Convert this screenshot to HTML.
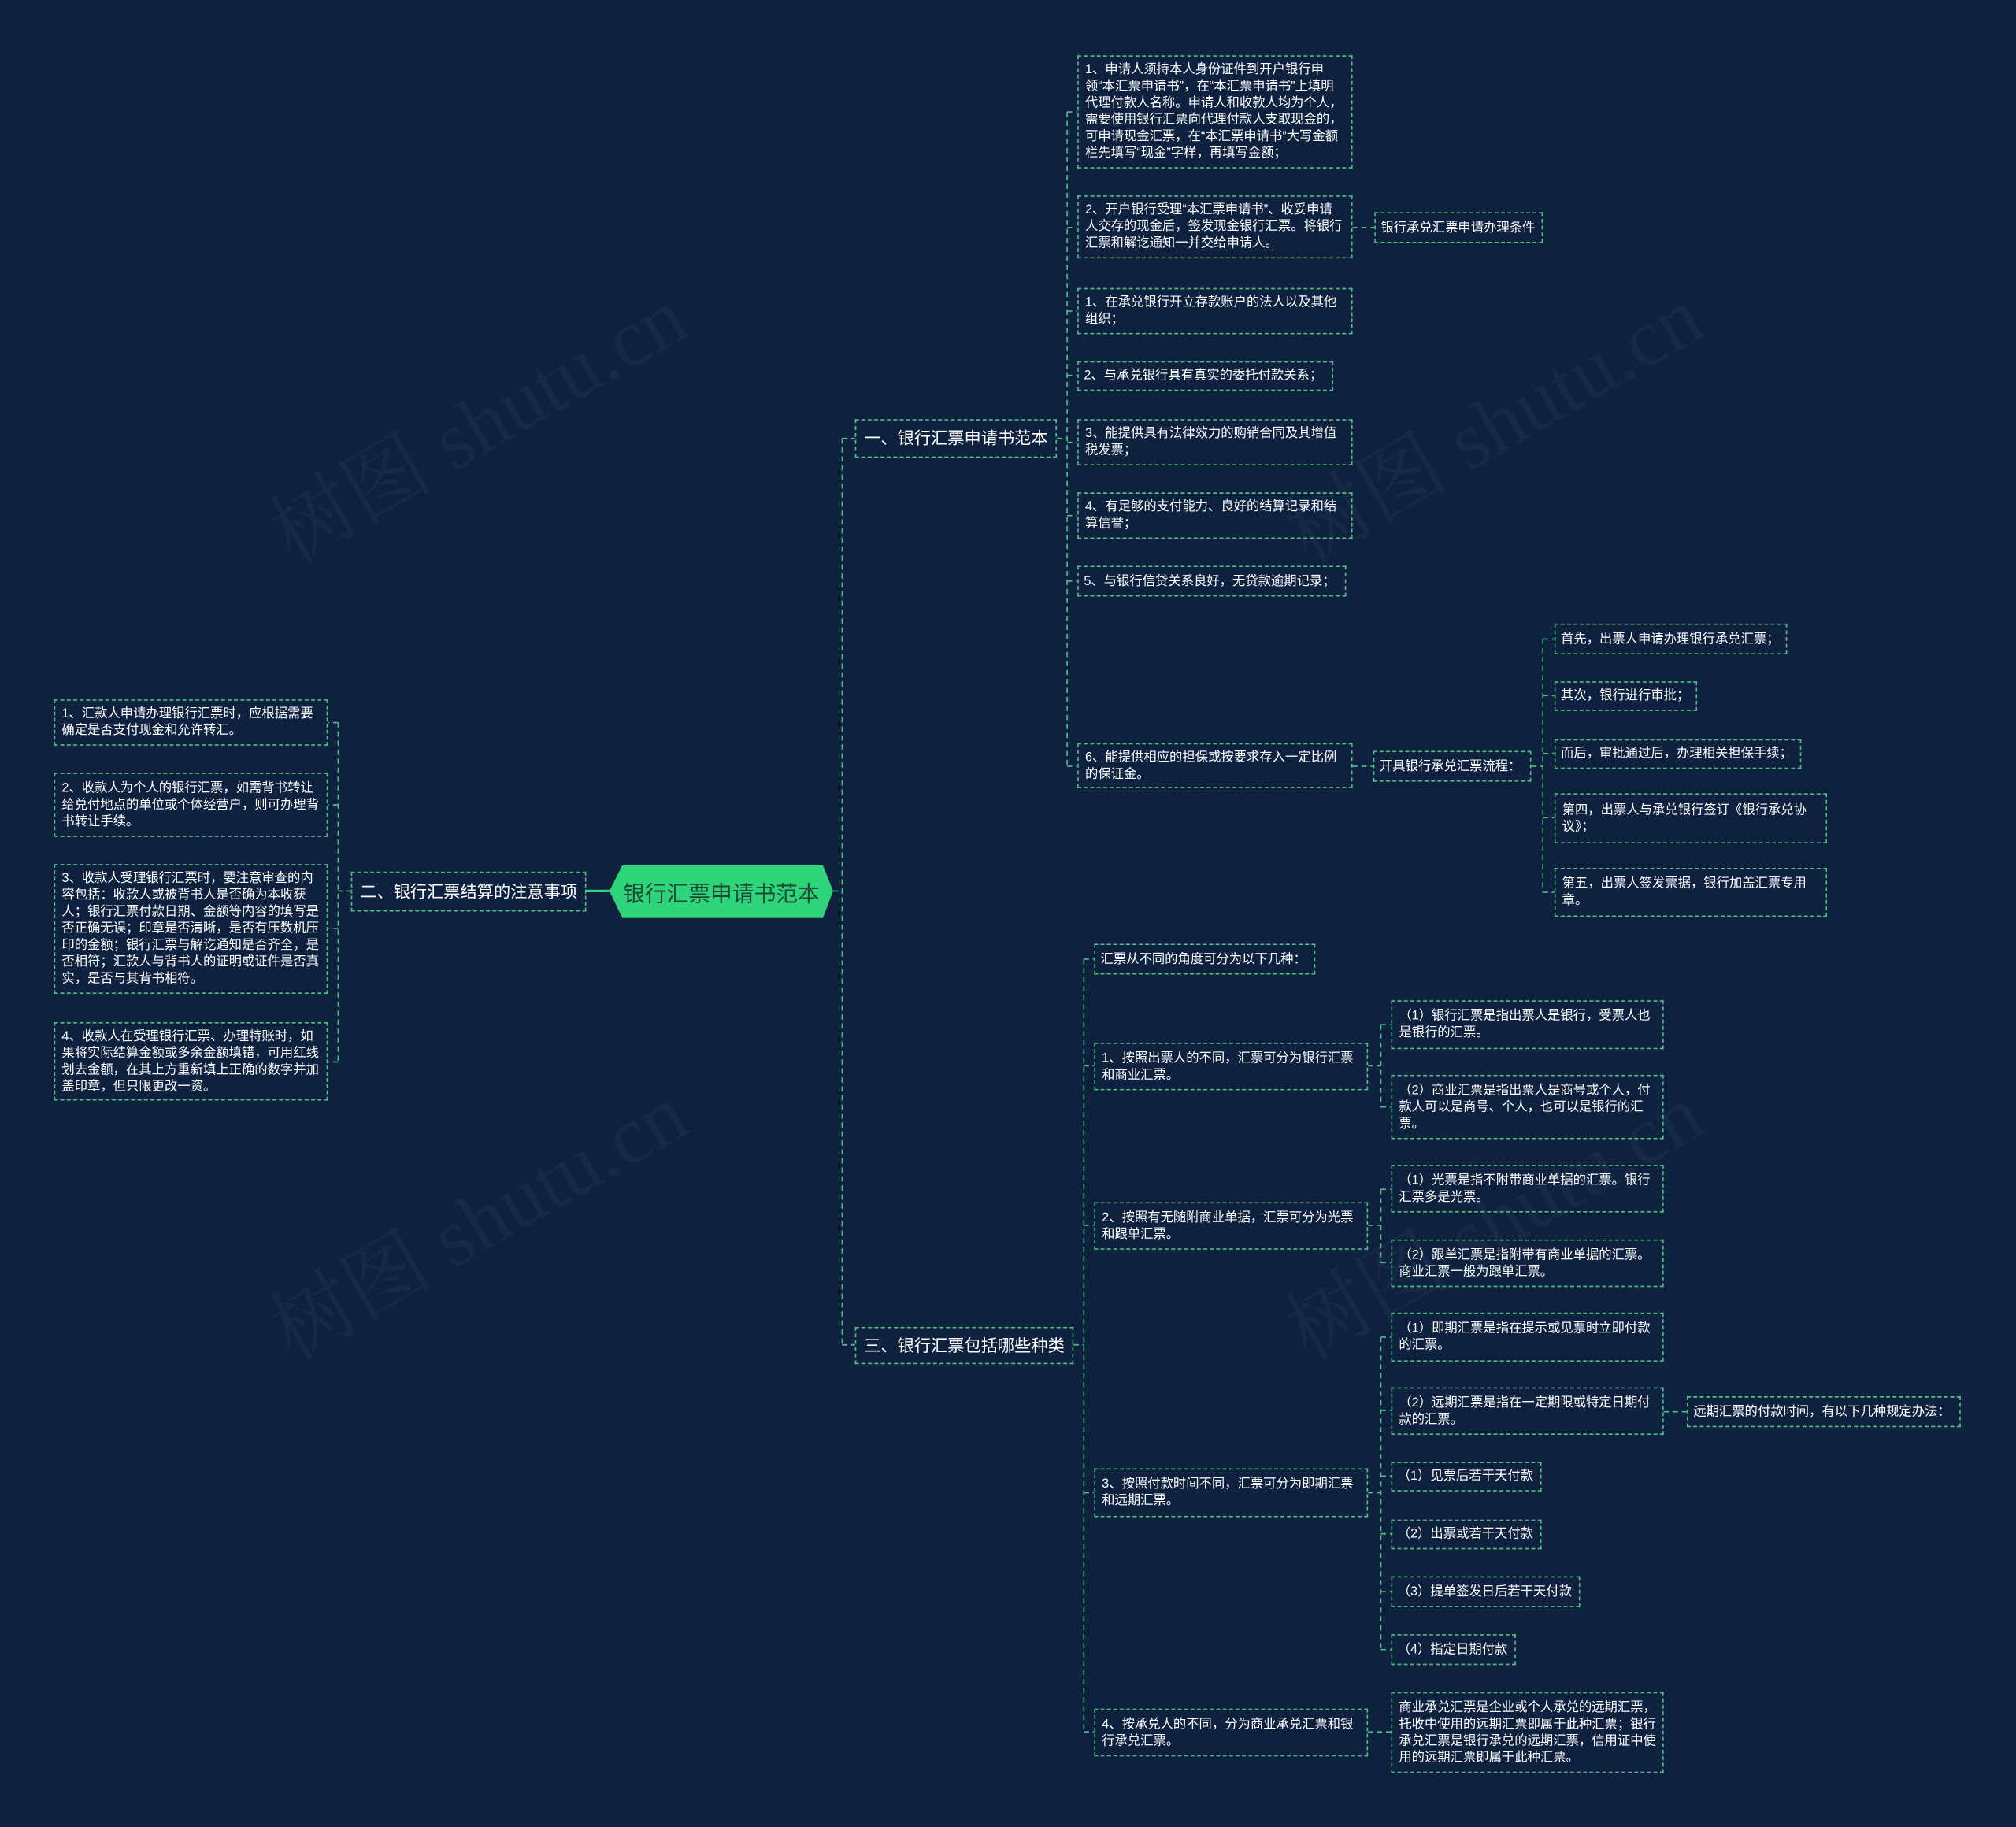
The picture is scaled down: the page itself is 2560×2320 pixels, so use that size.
<!DOCTYPE html>
<html><head><meta charset="utf-8"><style>
html,body{margin:0;padding:0;background:#0e2240;}
#wrap{width:2560px;height:2320px;overflow:hidden;position:relative;background:#0e2240;}
#s{position:absolute;left:0;top:0;width:1568px;height:1421px;transform:scale(1.63265);transform-origin:0 0;font-family:"Liberation Sans","Noto Sans CJK SC",sans-serif;}
.b{position:absolute;box-sizing:border-box;border:1px dashed #4fbf82;color:#fff;font-size:10px;line-height:13px;padding:0 5px;display:flex;align-items:center;}
.n{white-space:nowrap;padding:0 4px;overflow:visible;}
.m{font-size:13px;line-height:16px;padding:0 6px;white-space:nowrap;}
.wm{position:absolute;color:rgba(255,255,255,0.035);font-size:64px;font-family:"Liberation Serif","Noto Serif CJK SC",serif;transform:rotate(-30deg);white-space:nowrap;}
svg{position:absolute;left:0;top:0;}
</style></head><body><div id="wrap"><div id="s">
<div class="wm" style="left:190px;top:280px">树图 shutu.cn</div>
<div class="wm" style="left:980px;top:280px">树图 shutu.cn</div>
<div class="wm" style="left:190px;top:900px">树图 shutu.cn</div>
<div class="wm" style="left:980px;top:900px">树图 shutu.cn</div>
<svg width="1568" height="1421" fill="none" stroke="#4fbf82" stroke-width="1" stroke-dasharray="4 3">
<path d="M648 693H655M655 341V1046M655 341H665M655 1046H665"/>
<path d="M456 693H474" stroke="#2ed47a" stroke-width="2" stroke-dasharray="none"/>
<path d="M273 693H263M263 562V826M263 562H255M263 626H255M263 722H255M263 826H255"/>
<path d="M822 341H830M830 87V596M830 87H838M830 177H838M830 242H838M830 292H838M830 344H838M830 401H838M830 452H838M830 596H838"/>
<path d="M1052 177H1069M1052 596H1068M1191 596H1200M1200 497V694M1200 497H1209M1200 541H1209M1200 586H1209M1200 636H1209M1200 694H1209"/>
<path d="M835 1046H843M843 746V1347M843 746H851M843 829H851M843 953H851M843 1161H851M843 1347H851"/>
<path d="M1064 829H1074M1074 797V861M1074 797H1082M1074 861H1082"/>
<path d="M1064 953H1074M1074 925V982M1074 925H1082M1074 982H1082"/>
<path d="M1064 1161H1074M1074 1040V1283M1074 1040H1082M1074 1097H1082M1074 1148H1082M1074 1193H1082M1074 1238H1082M1074 1283H1082"/>
<path d="M1294 1098H1312M1064 1347H1082"/>
</svg>
<svg width="1568" height="1421"><polygon points="484,673 640,673 648,693 640,714 484,714 474,693" fill="#2ed47a"/></svg>
<div style="position:absolute;left:474px;top:673px;width:174px;height:41px;display:flex;align-items:center;justify-content:center;color:#1b4a33;font-size:17px;">银行汇票申请书范本</div>

<div class="b m" style="left:665px;top:326px;width:157px;height:30px">一、银行汇票申请书范本</div>
<div class="b m" style="left:273px;top:678px;width:183px;height:31px">二、银行汇票结算的注意事项</div>
<div class="b m" style="left:665px;top:1032px;width:170px;height:29px">三、银行汇票包括哪些种类</div>

<div class="b" style="left:838px;top:43px;width:214px;height:88px">1、申请人须持本人身份证件到开户银行申领“本汇票申请书”，在“本汇票申请书”上填明代理付款人名称。申请人和收款人均为个人，需要使用银行汇票向代理付款人支取现金的，可申请现金汇票，在“本汇票申请书”大写金额栏先填写“现金”字样，再填写金额；</div>
<div class="b" style="left:838px;top:152px;width:214px;height:49px">2、开户银行受理“本汇票申请书”、收妥申请人交存的现金后，签发现金银行汇票。将银行汇票和解讫通知一并交给申请人。</div>
<div class="b n" style="left:1069px;top:165px;width:131px;height:24px">银行承兑汇票申请办理条件</div>
<div class="b" style="left:838px;top:224px;width:214px;height:36px">1、在承兑银行开立存款账户的法人以及其他组织；</div>
<div class="b n" style="left:838px;top:281px;width:199px;height:23px">2、与承兑银行具有真实的委托付款关系；</div>
<div class="b" style="left:838px;top:326px;width:214px;height:36px">3、能提供具有法律效力的购销合同及其增值税发票；</div>
<div class="b" style="left:838px;top:383px;width:214px;height:36px">4、有足够的支付能力、良好的结算记录和结算信誉；</div>
<div class="b n" style="left:838px;top:440px;width:209px;height:24px">5、与银行信贷关系良好，无贷款逾期记录；</div>
<div class="b" style="left:838px;top:578px;width:214px;height:35px">6、能提供相应的担保或按要求存入一定比例的保证金。</div>
<div class="b n" style="left:1068px;top:584px;width:123px;height:24px">开具银行承兑汇票流程：</div>
<div class="b n" style="left:1209px;top:485px;width:181px;height:24px">首先，出票人申请办理银行承兑汇票；</div>
<div class="b n" style="left:1209px;top:530px;width:111px;height:23px">其次，银行进行审批；</div>
<div class="b n" style="left:1209px;top:575px;width:192px;height:23px">而后，审批通过后，办理相关担保手续；</div>
<div class="b" style="left:1209px;top:617px;width:212px;height:39px">第四，出票人与承兑银行签订《银行承兑协议》；</div>
<div class="b" style="left:1209px;top:675px;width:212px;height:38px">第五，出票人签发票据，银行加盖汇票专用章。</div>

<div class="b" style="left:42px;top:544px;width:213px;height:36px">1、汇款人申请办理银行汇票时，应根据需要确定是否支付现金和允许转汇。</div>
<div class="b" style="left:42px;top:601px;width:213px;height:50px">2、收款人为个人的银行汇票，如需背书转让给兑付地点的单位或个体经营户，则可办理背书转让手续。</div>
<div class="b" style="left:42px;top:672px;width:213px;height:101px">3、收款人受理银行汇票时，要注意审查的内容包括：收款人或被背书人是否确为本收获人；银行汇票付款日期、金额等内容的填写是否正确无误；印章是否清晰，是否有压数机压印的金额；银行汇票与解讫通知是否齐全，是否相符；汇款人与背书人的证明或证件是否真实，是否与其背书相符。</div>
<div class="b" style="left:42px;top:795px;width:213px;height:61px">4、收款人在受理银行汇票、办理特账时，如果将实际结算金额或多余金额填错，可用红线划去金额，在其上方重新填上正确的数字并加盖印章，但只限更改一资。</div>

<div class="b n" style="left:851px;top:734px;width:172px;height:24px">汇票从不同的角度可分为以下几种：</div>
<div class="b" style="left:851px;top:811px;width:213px;height:37px">1、按照出票人的不同，汇票可分为银行汇票和商业汇票。</div>
<div class="b" style="left:1082px;top:778px;width:212px;height:38px">（1）银行汇票是指出票人是银行，受票人也是银行的汇票。</div>
<div class="b" style="left:1082px;top:836px;width:212px;height:50px">（2）商业汇票是指出票人是商号或个人，付款人可以是商号、个人，也可以是银行的汇票。</div>
<div class="b" style="left:851px;top:935px;width:213px;height:37px">2、按照有无随附商业单据，汇票可分为光票和跟单汇票。</div>
<div class="b" style="left:1082px;top:906px;width:212px;height:37px">（1）光票是指不附带商业单据的汇票。银行汇票多是光票。</div>
<div class="b" style="left:1082px;top:964px;width:212px;height:37px">（2）跟单汇票是指附带有商业单据的汇票。商业汇票一般为跟单汇票。</div>
<div class="b" style="left:851px;top:1142px;width:213px;height:38px">3、按照付款时间不同，汇票可分为即期汇票和远期汇票。</div>
<div class="b" style="left:1082px;top:1021px;width:212px;height:38px">（1）即期汇票是指在提示或见票时立即付款的汇票。</div>
<div class="b" style="left:1082px;top:1079px;width:212px;height:37px">（2）远期汇票是指在一定期限或特定日期付款的汇票。</div>
<div class="b n" style="left:1312px;top:1086px;width:213px;height:24px">远期汇票的付款时间，有以下几种规定办法：</div>
<div class="b n" style="left:1082px;top:1137px;width:117px;height:23px">（1）见票后若干天付款</div>
<div class="b n" style="left:1082px;top:1182px;width:117px;height:23px">（2）出票或若干天付款</div>
<div class="b n" style="left:1082px;top:1226px;width:147px;height:24px">（3）提单签发日后若干天付款</div>
<div class="b n" style="left:1082px;top:1271px;width:97px;height:24px">（4）指定日期付款</div>
<div class="b" style="left:851px;top:1329px;width:213px;height:37px">4、按承兑人的不同，分为商业承兑汇票和银行承兑汇票。</div>
<div class="b" style="left:1082px;top:1316px;width:212px;height:63px">商业承兑汇票是企业或个人承兑的远期汇票，托收中使用的远期汇票即属于此种汇票；银行承兑汇票是银行承兑的远期汇票，信用证中使用的远期汇票即属于此种汇票。</div>
</div></div></body></html>
